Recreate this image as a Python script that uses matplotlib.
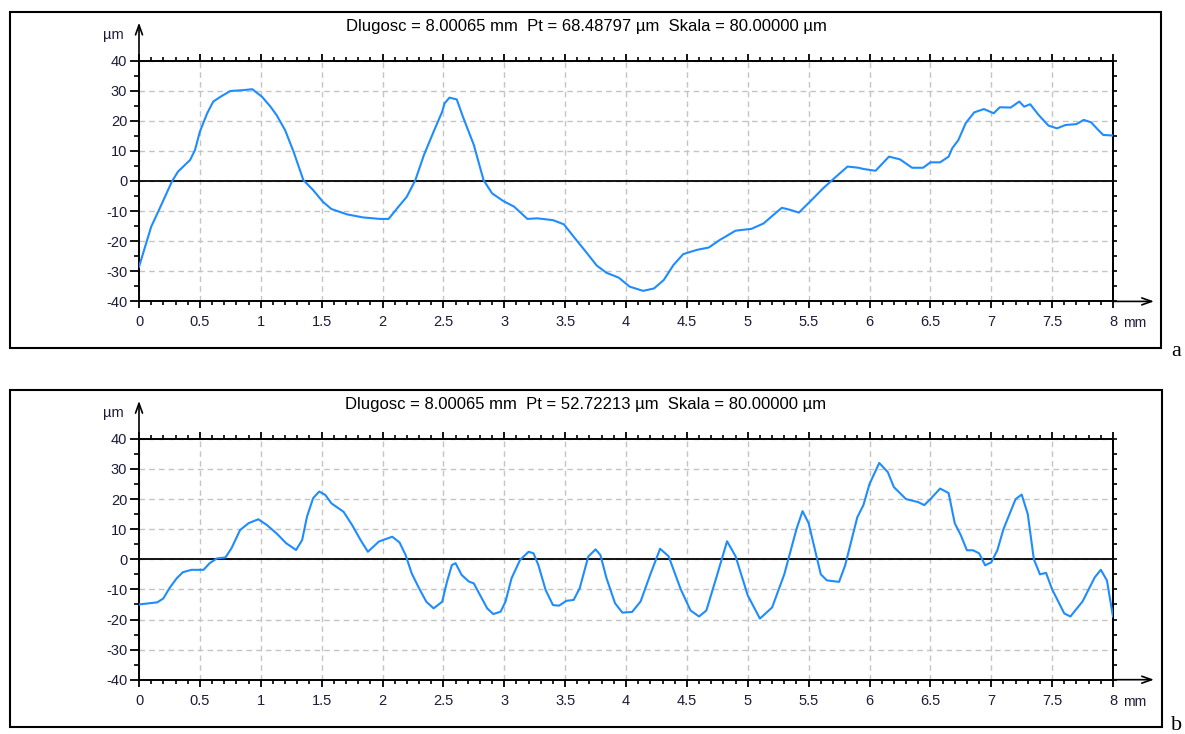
import matplotlib
matplotlib.use('Agg')
import matplotlib.pyplot as plt
from matplotlib.patches import Rectangle
from matplotlib.ticker import MultipleLocator

# profil a (x w mm, y w um)
x_a = [0.00, 0.10, 0.17, 0.27, 0.32, 0.42, 0.46, 0.50, 0.56, 0.61, 0.67, 0.75, 0.86, 0.93,
       1.01, 1.08, 1.13, 1.20, 1.27, 1.35, 1.43, 1.51, 1.58, 1.71, 1.84, 1.98, 2.05, 2.12,
       2.20, 2.27, 2.34, 2.42, 2.49, 2.51, 2.55, 2.61, 2.66, 2.75, 2.83, 2.90, 2.99, 3.08,
       3.19, 3.27, 3.40, 3.49, 3.57, 3.68, 3.76, 3.84, 3.94, 4.03, 4.14, 4.23, 4.31, 4.39,
       4.47, 4.58, 4.68, 4.77, 4.90, 5.03, 5.13, 5.21, 5.28, 5.35, 5.42, 5.51, 5.62, 5.71,
       5.82, 5.91, 5.95, 6.05, 6.16, 6.25, 6.35, 6.44, 6.50, 6.58, 6.65, 6.68, 6.73, 6.79,
       6.86, 6.94, 7.02, 7.07, 7.16, 7.23, 7.27, 7.32, 7.39, 7.47, 7.54, 7.61, 7.70, 7.76,
       7.82, 7.88, 7.92, 8.00]
y_a = [-28.5, -15.2, -9.1, -0.2, 3.1, 7.0, 10.3, 16.4, 22.5, 26.4, 28.0, 29.9, 30.2, 30.5,
       28.0, 24.7, 21.9, 16.9, 9.7, 0.3, -3.0, -6.9, -9.3, -11.1, -12.1, -12.6, -12.6, -9.1,
       -5.2, 0.3, 8.6, 16.4, 23.0, 25.8, 27.7, 27.1, 21.4, 12.0, 0.3, -4.1, -6.6, -8.5,
       -12.6, -12.4, -13.0, -14.4, -18.5, -24.0, -28.1, -30.5, -32.1, -35.1, -36.5, -35.7, -32.9, -27.9,
       -24.3, -22.9, -22.1, -19.6, -16.5, -15.9, -14.1, -11.3, -8.9, -9.6, -10.5, -6.9, -2.4, 0.9,
       4.8, 4.4, 4.0, 3.4, 8.1, 7.2, 4.4, 4.4, 6.2, 6.2, 8.1, 10.9, 13.6, 19.2,
       22.8, 23.9, 22.5, 24.5, 24.4, 26.4, 24.7, 25.5, 21.9, 18.4, 17.5, 18.6, 18.9, 20.3,
       19.5, 16.9, 15.3, 15.1]

# profil b
x_b = [0.00, 0.15, 0.20, 0.25, 0.31, 0.36, 0.43, 0.53, 0.58, 0.64, 0.71, 0.76, 0.83, 0.90,
       0.98, 1.05, 1.13, 1.21, 1.29, 1.34, 1.38, 1.43, 1.48, 1.53, 1.58, 1.68, 1.75, 1.82,
       1.88, 1.97, 2.08, 2.14, 2.19, 2.24, 2.30, 2.36, 2.42, 2.49, 2.53, 2.57, 2.60, 2.65,
       2.71, 2.75, 2.80, 2.86, 2.91, 2.97, 3.01, 3.06, 3.13, 3.20, 3.24, 3.28, 3.34, 3.40,
       3.45, 3.51, 3.57, 3.62, 3.69, 3.75, 3.79, 3.84, 3.91, 3.97, 4.05, 4.12, 4.20, 4.28,
       4.35, 4.45, 4.53, 4.60, 4.66, 4.75, 4.83, 4.90, 5.00, 5.10, 5.20, 5.30, 5.40, 5.45,
       5.50, 5.60, 5.65, 5.75, 5.80, 5.85, 5.90, 5.95, 6.00, 6.08, 6.15, 6.20, 6.30, 6.40,
       6.45, 6.50, 6.58, 6.65, 6.70, 6.75, 6.80, 6.85, 6.90, 6.95, 7.00, 7.05, 7.10, 7.20,
       7.25, 7.30, 7.35, 7.40, 7.45, 7.50, 7.60, 7.65, 7.75, 7.85, 7.90, 7.95, 8.00]
y_b = [-15.0, -14.3, -13.0, -9.6, -6.3, -4.3, -3.5, -3.5, -1.3, 0.3, 0.6, 3.7, 9.7, 12.0,
       13.3, 11.4, 8.6, 5.3, 3.1, 6.4, 14.2, 20.3, 22.5, 21.4, 18.6, 15.8, 11.4, 6.4,
       2.5, 5.9, 7.5, 5.6, 1.4, -4.7, -9.6, -14.1, -16.3, -14.1, -7.4, -1.9, -1.3, -5.2,
       -7.4, -8.0, -11.8, -16.3, -18.2, -17.4, -14.1, -6.3, -0.2, 2.5, 2.0, -1.9, -10.2, -15.2,
       -15.4, -13.8, -13.5, -9.6, 0.9, 3.3, 1.4, -6.3, -14.6, -17.7, -17.5, -14.0, -5.0, 3.5,
       1.0, -10.0, -17.0, -19.0, -17.0, -5.0, 6.0, 1.0, -12.0, -19.7, -16.0, -5.0, 10.0, 16.0,
       12.0, -5.0, -7.0, -7.5, -2.0, 6.0, 14.0, 18.0, 25.0, 32.0, 29.0, 24.0, 20.0, 19.0,
       18.0, 20.0, 23.5, 22.0, 12.0, 8.0, 3.0, 3.0, 2.0, -2.0, -1.0, 3.0, 10.0, 20.0,
       21.5, 15.0, 0.0, -5.0, -4.5, -10.0, -18.0, -19.0, -14.0, -6.0, -3.5, -7.0, -19.0]

titles = ['Dlugosc = 8.00065 mm  Pt = 68.48797 \u00b5m  Skala = 80.00000 \u00b5m',
          'Dlugosc = 8.00065 mm  Pt = 52.72213 \u00b5m  Skala = 80.00000 \u00b5m']
panel_labels = ['a', 'b']

W, H = 1185, 734
plt.rcParams['font.family'] = ['Liberation Sans', 'DejaVu Sans']
plt.rcParams['axes.unicode_minus'] = False
txt_col = '#1c1c3a'

fig = plt.figure(figsize=(W / 100, H / 100), dpi=100)


def fx(px):
    return px / W


def fy(py):
    return 1 - py / H


# ramki i polozenia osi (w pikselach)
frames = [(10, 12, 1161, 348), (10, 390, 1162, 727)]
axes_px = [(139, 60.6, 1113, 301.4), (139, 438.9, 1113, 679.7)]

for i, (xs, ys) in enumerate([(x_a, y_a), (x_b, y_b)]):
    l, t, r, b = frames[i]
    fig.add_artist(Rectangle((fx(l), fy(b)), fx(r - l), (b - t) / H,
                             transform=fig.transFigure, fill=False, lw=1.5, ec='black'))
    al, at, ar, ab = axes_px[i]
    ax = fig.add_axes([fx(al), fy(ab), fx(ar - al), (ab - at) / H])
    ax.set_xlim(0, 8)
    ax.set_ylim(-40, 40)
    ax.grid(True, which='major', color='#c4c4c4', ls=(0, (4, 3)), lw=1)
    ax.axhline(0, color='black', lw=1.3, zorder=2)
    ax.plot(xs, ys, color='#1e8cff', lw=1.5, zorder=3)

    ax.xaxis.set_major_locator(MultipleLocator(0.5))
    ax.xaxis.set_minor_locator(MultipleLocator(0.1))
    ax.yaxis.set_major_locator(MultipleLocator(10))
    ax.yaxis.set_minor_locator(MultipleLocator(5))
    ax.set_xticklabels([f'{v:g}' for v in ax.get_xticks()])
    for s in ax.spines.values():
        s.set_linewidth(1.4)
    ax.tick_params(axis='x', which='both', top=True, direction='out', labelsize=10.5,
                   labelcolor=txt_col, pad=5)
    ax.tick_params(axis='x', which='major', length=5, width=1.3)
    ax.tick_params(axis='x', which='minor', length=3, width=1.2)
    ax.tick_params(axis='y', which='major', length=6.5, width=1.3, direction='out',
                   labelsize=10.5, labelcolor=txt_col, pad=2)
    ax.tick_params(axis='y', which='minor', length=3.5, width=1.2, direction='out')
    sec = ax.secondary_yaxis('right')
    sec.yaxis.set_major_locator(MultipleLocator(5))
    sec.tick_params(length=3, width=1.2, labelright=False)
    sec.spines['right'].set_linewidth(1.4)

    # strzalki osi
    arrow = dict(arrowstyle='->,head_length=0.7,head_width=0.25', lw=1.2,
                 color='black', shrinkA=0, shrinkB=0)
    ax.annotate('', xy=(0, 1 + 38 / (ab - at)), xytext=(0, 1), xycoords='axes fraction',
                arrowprops=arrow, annotation_clip=False)
    ax.annotate('', xy=(1 + 41 / (ar - al), 0), xytext=(1, 0), xycoords='axes fraction',
                arrowprops=arrow, annotation_clip=False)

    fig.text(fx(124), fy(at - 26), '\u00b5m', ha='right', va='center', fontsize=10.5,
             color=txt_col)
    fig.text(fx(1123), fy(ab + 22), 'mm', ha='left', va='center', fontsize=10,
             color=txt_col)
    fig.text(fx(586), fy(t + 15), titles[i], ha='center', va='center', fontsize=12,
             color='black')
    fig.text(fx(1171), fy(b + 8 if i == 0 else 730), panel_labels[i], ha='left',
             va='baseline', fontsize=16, family='Liberation Serif', color='black')

fig.savefig('out.png', dpi=100)
